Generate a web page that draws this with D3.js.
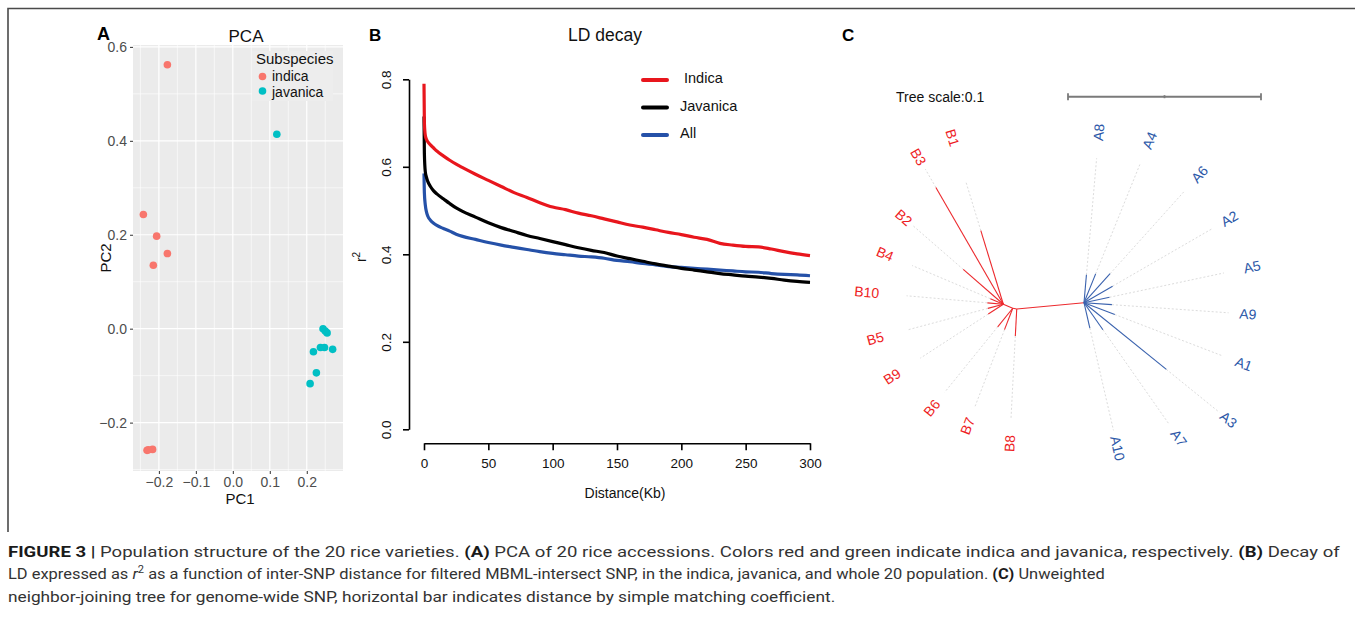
<!DOCTYPE html>
<html>
<head>
  <meta charset="utf-8">
  <title>Figure 3</title>
  <style>
   html,
   body {
     margin: 0;
     padding: 0;
     background: #fff;
   }
   svg {
     display: block;
     font-family: "Liberation Sans", Arial, sans-serif;
   }
  </style>
</head>
<body>
  <div id="figure"></div>

  <script src="https://d3js.org/d3.v7.min.js"></script>

  <script>
var width = 1355;
var height = 621;

// ---------- Panel A : PCA ----------
var subspecies = ["indica", "javanica"];
var subspeciesColors = ["#F8766D", "#00BFC4"];
var indicaPC1 = [-0.177, -0.242, -0.206, -0.177, -0.215, -0.232, -0.217, -0.228];
var indicaPC2 = [0.562, 0.243, 0.197, 0.160, 0.135, -0.259, -0.257, -0.258];
var javanicaPC1 = [0.119, 0.244, 0.255, 0.237, 0.248, 0.270, 0.218, 0.226, 0.209, 0.250];
var javanicaPC2 = [0.414, 0.000, -0.009, -0.040, -0.040, -0.044, -0.049, -0.094, -0.117, -0.005];
var pcaXTicks = [-0.2, -0.1, 0.0, 0.1, 0.2];
var pcaYTicks = [-0.2, 0.0, 0.2, 0.4, 0.6];
var pcaXMinor = [-0.25, -0.15, -0.05, 0.05, 0.15, 0.25];
var pcaYMinor = [-0.3, -0.1, 0.1, 0.3, 0.5];

// ---------- Panel B : LD decay ----------
var ldDistance = [0, 0.3, 1, 2, 3, 5, 7.5, 10, 15, 20, 25, 30, 40, 50, 60, 70, 80, 90, 100,
  110, 120, 130, 140, 150, 160, 170, 180, 190, 200, 210, 220, 230, 240, 250, 260, 270, 280, 290, 300];
var ldIndica = [0.790, 0.700, 0.672, 0.662, 0.657, 0.650, 0.643, 0.636, 0.625, 0.615, 0.606, 0.598, 0.583, 0.569, 0.555, 0.541, 0.530, 0.518, 0.508,
  0.502, 0.494, 0.488, 0.481, 0.474, 0.467, 0.462, 0.456, 0.450, 0.445, 0.439, 0.434, 0.425, 0.421, 0.418, 0.417, 0.412, 0.406, 0.401, 0.397];
var ldJavanica = [0.715, 0.630, 0.589, 0.575, 0.566, 0.555, 0.545, 0.538, 0.527, 0.516, 0.506, 0.498, 0.485, 0.472, 0.461, 0.452, 0.443, 0.436, 0.429,
  0.422, 0.415, 0.409, 0.404, 0.396, 0.390, 0.384, 0.378, 0.373, 0.368, 0.364, 0.360, 0.356, 0.353, 0.350, 0.348, 0.345, 0.341, 0.338, 0.336];
var ldAll = [0.585, 0.540, 0.513, 0.496, 0.487, 0.478, 0.471, 0.466, 0.459, 0.453, 0.446, 0.441, 0.434, 0.427, 0.421, 0.416, 0.411, 0.406, 0.402,
  0.399, 0.396, 0.394, 0.391, 0.386, 0.383, 0.379, 0.376, 0.372, 0.370, 0.368, 0.366, 0.364, 0.362, 0.360, 0.359, 0.356, 0.354, 0.353, 0.351];
var ldSeriesNames = ["Indica", "Javanica", "All"];
var ldSeriesColors = ["#E8161D", "#000000", "#2551A8"];
var ldXTicks = [0, 50, 100, 150, 200, 250, 300];
var ldYTicks = [0.0, 0.2, 0.4, 0.6, 0.8];

// ---------- Panel C : neighbor-joining tree (unrooted, angles in degrees) ----------
var innerNames = ["nR3", "nR2", "nR1"];
var innerParents = ["root", "nR3", "nR2"];
var innerAngles = [174.7, 190, 203];
var innerLengths = [0.0350, 0.0021, 0.0053];

var leafNames = ["B3", "B1", "B2", "B4", "B10", "B5", "B9", "B6", "B7", "B8",
  "A8", "A4", "A6", "A2", "A5", "A9", "A1", "A3", "A7", "A10"];
var leafParents = ["nR1", "nR1", "nR1", "nR1", "nR1", "nR1", "nR1", "nR2", "nR2", "nR3",
  "root", "root", "root", "root", "root", "root", "root", "root", "root", "root"];
var leafAngles = [-120, -107, -139, -157, -175, 165, 147, 129, 111, 93,
  -85, -68, -48, -30, -12, 4, 21, 39, 55, 77];
var leafBranch = [0.0699, 0.0399, 0.0275, 0.0073, 0.0083, 0.0083, 0.0093, 0.0124, 0.0119, 0.0140,
  0.0145, 0.0161, 0.0202, 0.0171, 0.0135, 0.0145, 0.0171, 0.0549, 0.0171, 0.0135];
var leafAlign = [0.0808, 0.0658, 0.0617, 0.0513, 0.0503, 0.0508, 0.0513, 0.0560, 0.0549, 0.0570,
  0.0751, 0.0772, 0.0772, 0.0762, 0.0741, 0.0751, 0.0767, 0.0902, 0.0762, 0.0679];
var leafLabelDist = [0.0881, 0.0902, 0.0684, 0.0666, 0.0710, 0.0687, 0.0687, 0.0666, 0.0653, 0.0698,
  0.0886, 0.0907, 0.0895, 0.0870, 0.0890, 0.0851, 0.0886, 0.0963, 0.0856, 0.0774];
var treeScaleLabel = "Tree scale:0.1";
var treeScaleValue = 0.1;
var treeEdgeColors = {B: "#EC2A2E", A: "#3A62AE"};
var treeLabelColors = {B: "#EE1D24", A: "#2C58A8"};

// ---------- Caption ----------
var captionLines = [
  [["FIGURE 3 |", "b"], [" Population structure of the 20 rice varieties. ", ""], ["(A)", "b"],
   [" PCA of 20 rice accessions. Colors red and green indicate indica and javanica, respectively. ", ""],
   ["(B)", "b"], [" Decay of", ""]],
  [["LD expressed as ", ""], ["r", "i"], ["2", "sup"],
   [" as a function of inter-SNP distance for filtered MBML-intersect SNP, in the indica, javanica, and whole 20 population. ", ""],
   ["(C)", "b"], [" Unweighted", ""]],
  [["neighbor-joining tree for genome-wide SNP, horizontal bar indicates distance by simple matching coefficient.", ""]]
];
var captionWidths = [1333, 1097, 828];

var svg = d3.select("#figure")
  .append("svg")
  .attr("width", width)
  .attr("height", height);

// figure frame (top and left rules)
svg.append("path")
  .attr("d", "M8,532 V8.5 H" + width)
  .attr("fill", "none")
  .attr("stroke", "#4a4a4a")
  .attr("stroke-width", 1.6);

// ======================= Panel A =======================
var pa = {left: 133, right: 343, top: 45, bottom: 471};
var xPca = d3.scaleLinear().domain([-0.27, 0.298]).range([pa.left, pa.right]);
var yPca = d3.scaleLinear().domain([-0.303, 0.604]).range([pa.bottom, pa.top]);

var gA = svg.append("g");

gA.append("rect")
  .attr("x", pa.left).attr("y", pa.top)
  .attr("width", pa.right - pa.left).attr("height", pa.bottom - pa.top)
  .attr("fill", "#EBEBEB");

// minor grid
gA.selectAll(".vminor").data(pcaXMinor).enter().append("line")
  .attr("x1", function(d) { return xPca(d); }).attr("x2", function(d) { return xPca(d); })
  .attr("y1", pa.top).attr("y2", pa.bottom)
  .attr("stroke", "#fff").attr("stroke-width", 0.6);
gA.selectAll(".hminor").data(pcaYMinor).enter().append("line")
  .attr("y1", function(d) { return yPca(d); }).attr("y2", function(d) { return yPca(d); })
  .attr("x1", pa.left).attr("x2", pa.right)
  .attr("stroke", "#fff").attr("stroke-width", 0.6);
// major grid
gA.selectAll(".vmajor").data(pcaXTicks).enter().append("line")
  .attr("x1", function(d) { return xPca(d); }).attr("x2", function(d) { return xPca(d); })
  .attr("y1", pa.top).attr("y2", pa.bottom)
  .attr("stroke", "#fff").attr("stroke-width", 1.2);
gA.selectAll(".hmajor").data(pcaYTicks).enter().append("line")
  .attr("y1", function(d) { return yPca(d); }).attr("y2", function(d) { return yPca(d); })
  .attr("x1", pa.left).attr("x2", pa.right)
  .attr("stroke", "#fff").attr("stroke-width", 1.2);

function fmtPca(d) {
  return d3.format(".1f")(d).replace("-", "\u2212");
}

var xAxisA = gA.append("g")
  .attr("transform", "translate(0," + pa.bottom + ")")
  .call(d3.axisBottom(xPca).tickValues(pcaXTicks).tickFormat(fmtPca).tickSize(3).tickSizeOuter(0).tickPadding(3));
var yAxisA = gA.append("g")
  .attr("transform", "translate(" + pa.left + ",0)")
  .call(d3.axisLeft(yPca).tickValues(pcaYTicks).tickFormat(fmtPca).tickSize(3).tickSizeOuter(0).tickPadding(3));
[xAxisA, yAxisA].forEach(function(ax) {
  ax.select(".domain").remove();
  ax.selectAll("line").attr("stroke", "#333");
  ax.selectAll("text").attr("fill", "#4D4D4D").style("font-size", "14px").style("font-family", "'Liberation Sans', Arial");
});

// points
var pcaPoints = [];
indicaPC1.forEach(function(v, i) { pcaPoints.push({pc1: v, pc2: indicaPC2[i], group: 0}); });
javanicaPC1.forEach(function(v, i) { pcaPoints.push({pc1: v, pc2: javanicaPC2[i], group: 1}); });

gA.selectAll(".pt").data(pcaPoints).enter().append("circle")
  .attr("cx", function(d) { return xPca(d.pc1); })
  .attr("cy", function(d) { return yPca(d.pc2); })
  .attr("r", 3.8)
  .attr("fill", function(d) { return subspeciesColors[d.group]; });

// legend
var legA = gA.append("g");
legA.append("rect")
  .attr("x", 252).attr("y", 51).attr("width", 81).attr("height", 50)
  .attr("fill", "#EDEDED");
legA.append("text").attr("x", 256).attr("y", 64).text("Subspecies")
  .style("font-size", "15px").attr("fill", "#111");
subspecies.forEach(function(s, i) {
  legA.append("circle").attr("cx", 262.5).attr("cy", 76.5 + i * 14.5).attr("r", 3.8).attr("fill", subspeciesColors[i]);
  legA.append("text").attr("x", 272).attr("y", 80.5 + i * 16).text(s)
    .style("font-size", "14px").attr("fill", "#111");
});

gA.append("text").attr("x", 97).attr("y", 40).text("A")
  .style("font-size", "18px").style("font-weight", "bold");
gA.append("text").attr("x", 246).attr("y", 42).attr("text-anchor", "middle").text("PCA")
  .style("font-size", "17px").attr("fill", "#111");
gA.append("text").attr("x", 240).attr("y", 504).attr("text-anchor", "middle").text("PC1")
  .style("font-size", "15px").attr("fill", "#111");
gA.append("text")
  .attr("transform", "translate(111," + ((pa.top + pa.bottom) / 2) + ") rotate(-90)")
  .attr("text-anchor", "middle").text("PC2")
  .style("font-size", "15px").attr("fill", "#111");

// ======================= Panel B =======================
var xLd = d3.scaleLinear().domain([0, 300]).range([424, 810]);
var yLd = d3.scaleLinear().domain([0, 0.8]).range([429.3, 79.3]);
var gB = svg.append("g");

var yAxisB = gB.append("g")
  .attr("transform", "translate(409,0)")
  .call(d3.axisLeft(yLd).tickValues(ldYTicks).tickFormat(d3.format(".1f")).tickSize(6).tickSizeOuter(0));
yAxisB.selectAll("text")
  .attr("x", 0).attr("dy", "0.35em")
  .attr("transform", "translate(-22.5,0) rotate(-90)")
  .attr("text-anchor", "middle");

var xAxisB = gB.append("g")
  .attr("transform", "translate(0,443.3)")
  .call(d3.axisBottom(xLd).tickValues(ldXTicks).tickSize(7).tickSizeOuter(0).tickPadding(8));

[xAxisB, yAxisB].forEach(function(ax) {
  ax.selectAll(".domain, line").attr("stroke", "#000").attr("stroke-width", 1.6);
  ax.selectAll("text").attr("fill", "#111").style("font-size", "13.5px").style("font-family", "'Liberation Sans', Arial");
});

var ldSeries = [ldIndica, ldJavanica, ldAll];
var ldLine = d3.line()
  .x(function(d) { return xLd(d[0]); })
  .y(function(d) { return yLd(d[1]); })
  .curve(d3.curveMonotoneX);

// draw All first so red/black sit on top
[2, 1, 0].forEach(function(k) {
  gB.append("path")
    .datum(ldDistance.map(function(x, i) { return [x, ldSeries[k][i]]; }))
    .attr("fill", "none")
    .attr("stroke", ldSeriesColors[k])
    .attr("stroke-width", 3.2)
    .attr("stroke-linejoin", "round")
    .attr("d", ldLine);
});

// legend
ldSeriesNames.forEach(function(n, i) {
  var ly = 80 + i * 27.5;
  gB.append("line").attr("x1", 643).attr("x2", 667).attr("y1", ly).attr("y2", ly)
    .attr("stroke", ldSeriesColors[i]).attr("stroke-width", 4).attr("stroke-linecap", "round");
  gB.append("text").attr("x", i === 0 ? 684 : 680).attr("y", ly - 2).attr("dy", "0.35em").text(n)
    .style("font-size", "14.5px").attr("fill", "#111");
});

gB.append("text").attr("x", 369).attr("y", 41).text("B")
  .style("font-size", "17px").style("font-weight", "bold");
gB.append("text").attr("x", 605).attr("y", 41).attr("text-anchor", "middle").text("LD decay")
  .style("font-size", "17.5px").attr("fill", "#111");
gB.append("text").attr("x", 625).attr("y", 498).attr("text-anchor", "middle").text("Distance(Kb)")
  .style("font-size", "14px").attr("fill", "#111");
var r2 = gB.append("text")
  .attr("transform", "translate(366,257) rotate(-90)")
  .attr("text-anchor", "middle")
  .style("font-size", "14px").attr("fill", "#111");
r2.append("tspan").text("r");
r2.append("tspan").attr("dy", -6).style("font-size", "10px").text("2");

// ======================= Panel C =======================
var gC = svg.append("g");
var treeLen = d3.scaleLinear().domain([0, treeScaleValue]).range([0, 193]);
var treeRoot = {x: 1084, y: 302.7};

gC.append("text").attr("x", 842).attr("y", 41).text("C")
  .style("font-size", "17px").style("font-weight", "bold");
gC.append("text").attr("x", 896).attr("y", 97).attr("dy", "0.35em").text(treeScaleLabel)
  .style("font-size", "14px").attr("fill", "#111");

// scale bar
var barX0 = 1068;
var barY = 96.7;
gC.append("line").attr("x1", barX0).attr("x2", barX0 + treeLen(treeScaleValue))
  .attr("y1", barY).attr("y2", barY).attr("stroke", "#7a7a7a").attr("stroke-width", 2);
[0, treeScaleValue / 2, treeScaleValue].forEach(function(v, i) {
  var h = i === 1 ? 1.5 : 3.5;
  gC.append("line").attr("x1", barX0 + treeLen(v)).attr("x2", barX0 + treeLen(v))
    .attr("y1", barY - h).attr("y2", barY + h).attr("stroke", "#7a7a7a").attr("stroke-width", 1.8);
});

function polar(p, ang, len) {
  var a = ang * Math.PI / 180;
  return {x: p.x + treeLen(len) * Math.cos(a), y: p.y + treeLen(len) * Math.sin(a)};
}

var nodePos = {root: treeRoot};
innerNames.forEach(function(n, i) {
  nodePos[n] = polar(nodePos[innerParents[i]], innerAngles[i], innerLengths[i]);
  var p = nodePos[innerParents[i]];
  gC.append("line")
    .attr("x1", p.x).attr("y1", p.y).attr("x2", nodePos[n].x).attr("y2", nodePos[n].y)
    .attr("stroke", treeEdgeColors.B).attr("stroke-width", 1.1);
});

var leaves = leafNames.map(function(n, i) {
  return {name: n, group: n.charAt(0), parent: nodePos[leafParents[i]], angle: leafAngles[i],
    branch: leafBranch[i], align: leafAlign[i], label: leafLabelDist[i]};
});

// dotted alignment lines
gC.selectAll(".dot").data(leaves).enter().append("line")
  .attr("x1", function(d) { return polar(d.parent, d.angle, d.branch).x; })
  .attr("y1", function(d) { return polar(d.parent, d.angle, d.branch).y; })
  .attr("x2", function(d) { return polar(d.parent, d.angle, d.align).x; })
  .attr("y2", function(d) { return polar(d.parent, d.angle, d.align).y; })
  .attr("stroke", "#dcdcdc").attr("stroke-width", 1).attr("stroke-dasharray", "2,2");

// solid branches
gC.selectAll(".br").data(leaves).enter().append("line")
  .attr("x1", function(d) { return d.parent.x; })
  .attr("y1", function(d) { return d.parent.y; })
  .attr("x2", function(d) { return polar(d.parent, d.angle, d.branch).x; })
  .attr("y2", function(d) { return polar(d.parent, d.angle, d.branch).y; })
  .attr("stroke", function(d) { return treeEdgeColors[d.group]; })
  .attr("stroke-width", 1.1);

// labels
gC.selectAll(".lbl").data(leaves).enter().append("text")
  .attr("transform", function(d) {
    var p = polar(d.parent, d.angle, d.label);
    var rot = Math.cos(d.angle * Math.PI / 180) >= 0 ? d.angle : d.angle + 180;
    return "translate(" + p.x + "," + p.y + ") rotate(" + rot + ")";
  })
  .attr("text-anchor", "middle")
  .attr("dy", "0.35em")
  .attr("fill", function(d) { return treeLabelColors[d.group]; })
  .style("font-size", "14px")
  .text(function(d) { return d.name; });

// ======================= Caption =======================
var gCap = svg.append("g")
  .style("font-family", "'Liberation Sans Narrow', Roboto, 'Liberation Sans', Arial, sans-serif")
  .style("font-size", "15.5px")
  .attr("fill", "#333");

captionLines.forEach(function(line, li) {
  var t = gCap.append("text").attr("x", 0).attr("y", 0);
  var shifted = false;
  line.forEach(function(seg) {
    var ts = t.append("tspan").text(seg[0]);
    if (seg[1] === "b") ts.style("font-weight", "bold").attr("fill", "#1a1a1a");
    if (seg[1] === "i") ts.style("font-style", "italic");
    if (seg[1] === "sup") { ts.attr("dy", -6).style("font-size", "10.5px"); shifted = true; }
    else if (shifted) { ts.attr("dy", 6); shifted = false; }
  });
  var w = t.node().getComputedTextLength();
  var k = captionWidths[li] / w;
  t.attr("transform", "translate(8," + (557 + li * 22.3) + ") scale(" + k + ",1)");
});
  </script>
</body>
</html>
